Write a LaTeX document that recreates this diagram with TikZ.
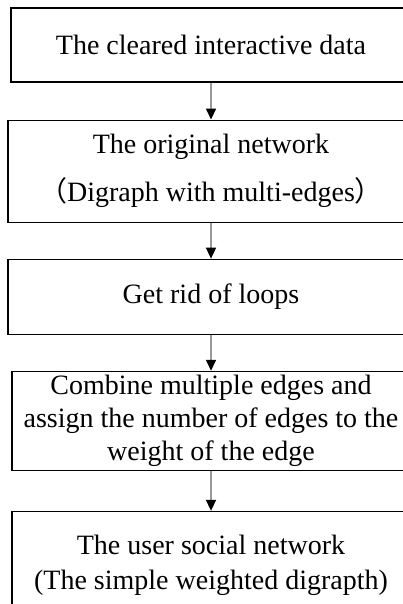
\documentclass[tikz,border=0pt]{standalone}
\usepackage{fontspec}
\setmainfont{Liberation Serif}
\newfontfamily\cjkfont{Noto Sans CJK SC}
\usetikzlibrary{arrows.meta, positioning}

\begin{document}
\begin{tikzpicture}[
  node distance=36pt,
  stage/.style={rectangle, draw=black, line width=1.1pt, minimum width=400pt, align=center, inner sep=0pt, font=\fontsize{28}{33}\selectfont},
  arrow/.style={-{Triangle[width=10pt,length=11pt,color=black]}, line width=1.6pt, draw=gray!80}
]
\useasboundingbox (0,0) rectangle (403pt,-604pt);

% Etapes du traitement
\node[stage, minimum height=74pt] (clean) at (211pt,-45pt) {The cleared interactive data};
\node[stage, minimum width=406pt, minimum height=102pt, below=37pt of clean] (orig) {The original network\\[15pt]{\cjkfont （}Digraph with multi-edges{\cjkfont ）}};
\node[stage, minimum width=406pt, minimum height=75pt, below=of orig] (loops) {Get rid of loops};
\node[stage, minimum width=398pt, minimum height=99pt, below=of loops] (merge) {Combine multiple edges and\\assign the number of edges to the\\weight of the edge};
\node[stage, minimum width=398pt, minimum height=108pt, below=40pt of merge] (social) {The user social network\\[2pt](The simple weighted digrapth)};

% Fleches
\draw[arrow] (clean) -- (orig);
\draw[arrow] (orig) -- (loops);
\draw[arrow] (loops) -- (merge);
\draw[arrow] (merge) -- (social);

\end{tikzpicture}
\end{document}
